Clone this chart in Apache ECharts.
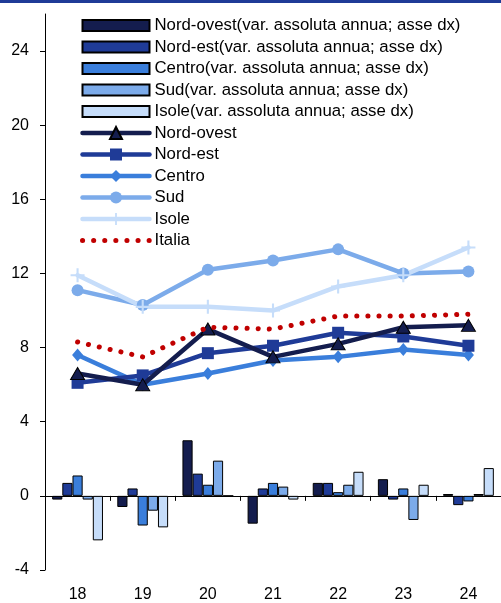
<!DOCTYPE html>
<html>
<head>
<meta charset="utf-8">
<script src="https://cdn.jsdelivr.net/npm/echarts@6/dist/echarts.min.js"></script>
<style>
  html, body { margin: 0; padding: 0; background: #fff; }
  #chart { width: 501px; height: 603px; }
</style>
</head>
<body>
<div id="chart"></div>
<script>
// Years on the category axis
const years = ['18', '19', '20', '21', '22', '23', '24'];

// Annual absolute changes (right axis)
const varNordOvest = [-0.2, -0.6, 3.0, -1.5, 0.7, 0.9, 0.1];
const varNordEst   = [0.7, 0.4, 1.2, 0.4, 0.7, -0.2, -0.5];
const varCentro    = [1.1, -1.6, 0.6, 0.7, 0.2, 0.4, -0.3];
const varSud       = [-0.2, -0.8, 1.9, 0.5, 0.6, -1.3, 0.1];
const varIsole     = [-2.4, -1.7, 0.0, -0.2, 1.3, 0.6, 1.5];

// Levels (left axis)
const nordOvest = [6.6, 6.0, 9.0, 7.5, 8.2, 9.1, 9.2];
const nordEst   = [6.1, 6.5, 7.7, 8.1, 8.8, 8.6, 8.1];
const centro    = [7.6, 6.0, 6.6, 7.3, 7.5, 7.9, 7.6];
const sud       = [11.1, 10.3, 12.2, 12.7, 13.3, 12.0, 12.1];
const isole     = [11.9, 10.2, 10.2, 10.0, 11.3, 11.9, 13.4];
const italia    = [8.3, 7.5, 9.1, 9.0, 9.7, 9.7, 9.8];

// Left axis tick values
const yTicks = [-4, 0, 4, 8, 12, 16, 20, 24];

const C1 = '#141d4e', C2 = '#1f3b97', C3 = '#3a7edb', C4 = '#7cabea', C5 = '#c6ddfa', RED = '#c00000';
const FONT = '"Liberation Sans", Arial, sans-serif';
const PLUS = 'path://M8.5,0H11.5V8.5H20V11.5H11.5V20H8.5V11.5H0V8.5H8.5Z';
const BAR_ICON = 'path://M0,0H67V11H0Z';
const DOTS = [0.1, 11];

function barSeries(name, data, color) {
  return {
    name: name, type: 'bar', data: data,
    xAxisIndex: 0, yAxisIndex: 1,
    barGap: '0%', barCategoryGap: '22%',
    itemStyle: { color: color, borderColor: '#000', borderWidth: 1 },
    z: 2
  };
}
function lineSeries(name, data, color, symbol, size, extra) {
  return Object.assign({
    name: name, type: 'line', data: data,
    xAxisIndex: 0, yAxisIndex: 0,
    symbol: symbol, symbolSize: size,
    lineStyle: { color: color, width: 4.5, cap: 'round' },
    itemStyle: { color: color },
    z: 5
  }, extra || {});
}
function barLegend(name) {
  return { name: name, icon: BAR_ICON };
}
function lineLegend(name) {
  return { name: name, lineStyle: { width: 4.5, cap: 'round' } };
}

const chart = echarts.init(document.getElementById('chart'), null, { renderer: 'canvas' });
chart.setOption({
  animation: false,
  textStyle: { fontFamily: FONT },
  graphic: [{ type: 'rect', shape: { x: 0, y: 0, width: 501, height: 3 }, style: { fill: C2 }, silent: true }],
  grid: { left: 45, right: -3, top: 14, bottom: 31 },
  legend: {
    orient: 'vertical', left: 80, top: 17, padding: 0,
    itemWidth: 67, itemHeight: 15, itemGap: 4.5,
    textStyle: { fontFamily: FONT, fontSize: 16.8, lineHeight: 15, color: '#000' },
    data: [
      barLegend('Nord-ovest(var. assoluta annua; asse dx)'),
      barLegend('Nord-est(var. assoluta annua; asse dx)'),
      barLegend('Centro(var. assoluta annua; asse dx)'),
      barLegend('Sud(var. assoluta annua; asse dx)'),
      barLegend('Isole(var. assoluta annua; asse dx)'),
      lineLegend('Nord-ovest'), lineLegend('Nord-est'), lineLegend('Centro'),
      lineLegend('Sud'), lineLegend('Isole'),
      { name: 'Italia', itemStyle: { opacity: 0 }, lineStyle: { width: 5, type: DOTS, cap: 'round' } }
    ]
  },
  xAxis: [
    {
      type: 'category', data: years, position: 'bottom',
      axisLine: { show: false, onZero: false }, axisTick: { show: false },
      axisLabel: { fontFamily: FONT, fontSize: 16, color: '#000', margin: 17 }
    },
    {
      type: 'category', data: years, position: 'bottom',
      axisLine: { show: true, onZero: true, onZeroAxisIndex: 0, lineStyle: { color: '#000', width: 1 } },
      axisTick: { show: true, length: 5, lineStyle: { color: '#000' } },
      axisLabel: { show: false }
    }
  ],
  yAxis: [
    {
      type: 'value', min: -4, max: 26, interval: 2,
      splitLine: { show: false },
      axisLine: { show: true, lineStyle: { color: '#000', width: 1 } },
      axisTick: { show: true, length: 5, customValues: yTicks, lineStyle: { color: '#000' } },
      axisLabel: { customValues: yTicks, fontFamily: FONT, fontSize: 16, color: '#000', margin: 16 }
    },
    {
      type: 'value', min: -4, max: 26, interval: 2, show: false, position: 'right',
      splitLine: { show: false }
    }
  ],
  series: [
    barSeries('Nord-ovest(var. assoluta annua; asse dx)', varNordOvest, C1),
    barSeries('Nord-est(var. assoluta annua; asse dx)', varNordEst, C2),
    barSeries('Centro(var. assoluta annua; asse dx)', varCentro, C3),
    barSeries('Sud(var. assoluta annua; asse dx)', varSud, C4),
    barSeries('Isole(var. assoluta annua; asse dx)', varIsole, C5),
    lineSeries('Nord-ovest', nordOvest, C1, 'triangle', [14, 12], { itemStyle: { color: C1, borderColor: '#000', borderWidth: 1 }, z: 8 }),
    lineSeries('Nord-est', nordEst, C2, 'rect', 12, { z: 7 }),
    lineSeries('Centro', centro, C3, 'diamond', [11, 13], { z: 6 }),
    lineSeries('Sud', sud, C4, 'circle', 12),
    lineSeries('Isole', isole, C5, PLUS, 14),
    lineSeries('Italia', italia, RED, 'none', 0, {
      lineStyle: { color: RED, width: 5, type: DOTS, cap: 'round' },
      z: 9
    })
  ]
});
</script>
</body>
</html>
